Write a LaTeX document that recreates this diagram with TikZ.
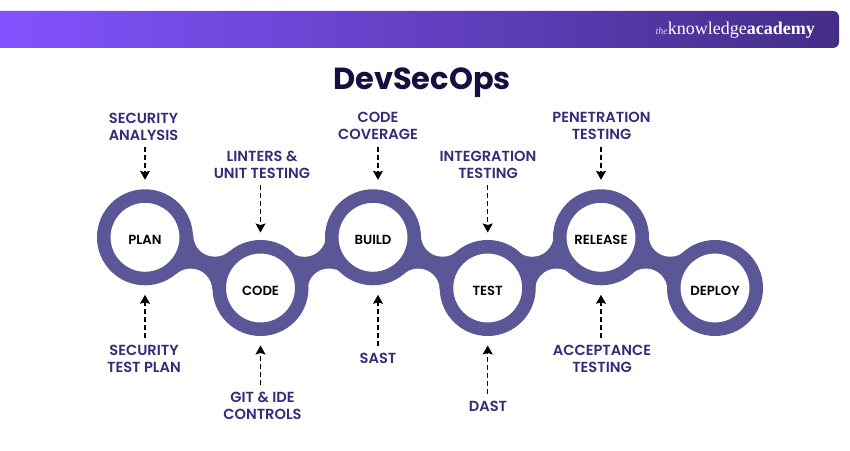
\documentclass[tikz,border=0pt]{standalone}
\usepackage{fontspec}
\setmainfont{Poppins}[BoldFont={Poppins SemiBold}]
\newfontfamily\titlefont{Poppins}[BoldFont={Poppins Bold}]
\newfontfamily\logofont{Liberation Serif}
\usetikzlibrary{positioning, arrows.meta, calc, backgrounds}

\definecolor{bandblue}{HTML}{5B5796}
\definecolor{labelblue}{HTML}{382A78}
\definecolor{titleblue}{HTML}{150F42}
\definecolor{headleft}{HTML}{8352FF}
\definecolor{headright}{HTML}{432E87}

\begin{document}
\begin{tikzpicture}[
    x=1pt, y=1pt,
    stage/.style={circle, draw=bandblue, line width=13.5pt, fill=white, minimum size=82.5pt,
                  inner sep=0pt, text height=15pt, text depth=0pt,
                  font=\fontsize{13.2}{14}\selectfont\bfseries, text=black},
    tasklabel/.style={align=center, font=\fontsize{14.6}{17}\selectfont\bfseries, text=labelblue,
                      inner sep=0pt},
    dasharrow/.style={-{Stealth[length=9pt, width=10pt, inset=1.5pt]}, line width=1.2pt,
                      dash pattern=on 5pt off 3pt, shorten <=7pt, shorten >=9.5pt}
]
    \useasboundingbox (0,0) rectangle (850,450);

    % Header
    \path[left color=headleft, right color=headright]
        (0,402) -- (0,439) [rounded corners=6pt] -- (839,439) -- (839,402) [sharp corners] -- cycle;
    \node[anchor=east, inner sep=0pt, text=white, font=\fontsize{18}{20}\selectfont\logofont] (logo) at (815,420)
        {{\fontsize{10}{10}\selectfont\itshape\color{white!80!headright} the}knowledge\textbf{academy}};
    \node[anchor=base, font=\fontsize{30.5}{32}\selectfont\titlefont\bfseries, text=titleblue] (title) at (422,360.5) {DevSecOps};

    % Stages
    \node[stage] (plan) at (145,212.7) {PLAN};
    \node[stage] (code) at (260.5,162) {CODE};
    \node[stage] (build) at (373,212.7) {BUILD};
    \node[stage] (test) at (487.7,162) {TEST};
    \node[stage] (release) at (601,212.7) {RELEASE};
    \node[stage] (deploy) at (715,162) {DEPLOY};

    % Band between the stages
    \begin{scope}[on background layer]
    \foreach \a/\b in {plan/code, code/build, build/test, test/release, release/deploy} {
        \coordinate (n1) at ($(\a.center)!0.5!(\b.center)!30pt!90:(\b.center)$);
        \coordinate (n2) at ($(\a.center)!0.5!(\b.center)!30pt!-90:(\b.center)$);
        \fill[bandblue] (\a.center) -- (n1) -- (\b.center) -- (n2) -- cycle;
        \fill[white] (n1) circle (21.5pt);
        \fill[white] (n2) circle (21.5pt);
    }
    \end{scope}

    % Labels above
    \node[tasklabel] (analysis) at (143.5,323.5) {SECURITY\\ANALYSIS};
    \node[tasklabel] (linters) at (262,285.5) {LINTERS \&\\UNIT TESTING};
    \node[tasklabel] (coverage) at (378,324.3) {CODE\\COVERAGE};
    \node[tasklabel] (integration) at (488,285.5) {INTEGRATION\\TESTING};
    \node[tasklabel] (penetration) at (601.5,324.3) {PENETRATION\\TESTING};

    % Labels below
    \node[tasklabel] (testplan) at (144,91.5) {SECURITY\\TEST PLAN};
    \node[tasklabel] (git) at (262.5,44.5) {GIT \& IDE\\CONTROLS};
    \node[tasklabel] (sast) at (378,92) {SAST};
    \node[tasklabel] (dast) at (488,44) {DAST};
    \node[tasklabel] (acceptance) at (602,91.5) {ACCEPTANCE\\TESTING};

    % Arrows
    \draw[dasharrow] (analysis.south -| plan) -- (plan.north);
    \draw[dasharrow, shorten >=7.5pt] (linters.south -| code) -- (code.north);
    \draw[dasharrow] (coverage.south) -- (coverage.south |- build.north);
    \draw[dasharrow, shorten >=7.5pt] (integration.south -| test) -- (test.north);
    \draw[dasharrow] (penetration.south -| release) -- (release.north);
    \draw[dasharrow] (testplan.north -| plan) -- (plan.south);
    \draw[dasharrow] (git.north -| code) -- (code.south);
    \draw[dasharrow] (sast.north) -- (sast.north |- build.south);
    \draw[dasharrow] (dast.north -| test) -- (test.south);
    \draw[dasharrow] (acceptance.north -| release) -- (release.south);
\end{tikzpicture}
\end{document}
